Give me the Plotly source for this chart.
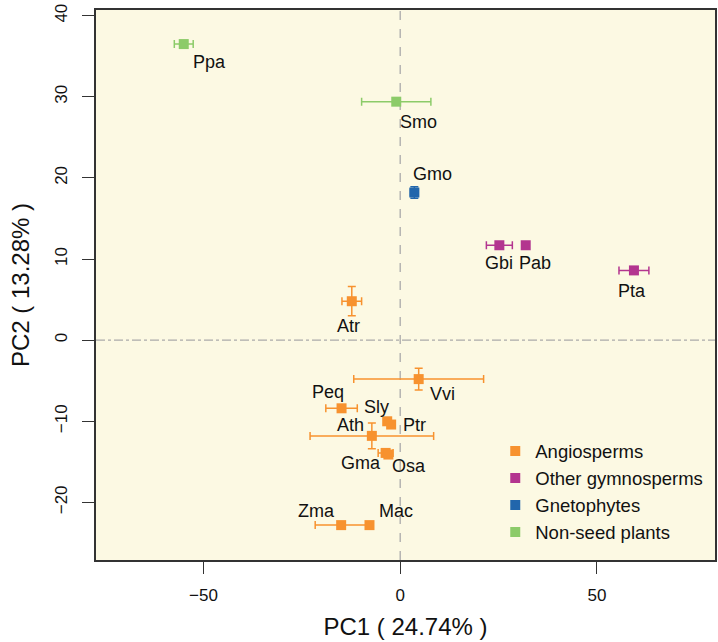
import plotly.graph_objects as go

# ---- data ----
names = ["Ppa", "Smo", "Gmo", "Gbi", "Pab", "Pta", "Atr", "Vvi", "Peq", "Sly",
         "Ptr", "Ath", "Gma", "Osa", "Zma", "Mac"]
groups = ["Non-seed plants", "Non-seed plants", "Gnetophytes", "Other gymnosperms",
          "Other gymnosperms", "Other gymnosperms", "Angiosperms", "Angiosperms",
          "Angiosperms", "Angiosperms", "Angiosperms", "Angiosperms", "Angiosperms",
          "Angiosperms", "Angiosperms", "Angiosperms"]
pc1 = [-55.0, -1.0, 3.6, 25.2, 31.9, 59.4, -12.3, 4.7, -14.9, -3.3,
       -2.3, -7.2, -3.7, -3.0, -15.0, -7.8]
pc2 = [36.5, 29.4, 18.2, 11.7, 11.7, 8.6, 4.8, -4.8, -8.4, -10.0,
       -10.4, -11.8, -13.9, -14.1, -22.8, -22.8]
pc1_err = [2.4, 8.8, 1.0, 3.3, 0.0, 3.8, 2.5, 16.5, 4.0, 0.0,
           0.0, 15.7, 1.9, 0.0, 6.6, 0.0]
pc2_err = [0.0, 0.0, 0.7, 0.0, 0.0, 0.0, 1.8, 1.35, 0.0, 0.0,
           0.0, 1.6, 0.0, 0.0, 0.0, 0.0]
legend_order = ["Angiosperms", "Other gymnosperms", "Gnetophytes", "Non-seed plants"]
x_tick_vals = [-50, 0, 50]
y_tick_vals = [-20, -10, 0, 10, 20, 30, 40]

# ---- styles ----
colors = {"Angiosperms": "#F7922F", "Other gymnosperms": "#B3358F",
          "Gnetophytes": "#2166AC", "Non-seed plants": "#8CCB69"}
# label pixel offsets (dx right, dy down)
label_offsets = [(26, 18), (22, 20), (18, -19), (0, 18), (9, 18), (-2, 21),
                 (-3, 25), (24, 15), (-14, -16), (-11, -14), (23, 0), (-21, -11),
                 (-25, 10), (21, 11), (-25, -14), (27, -14)]
FONT = "Liberation Sans, Arial, sans-serif"

fig = go.Figure()

for g in legend_order:
    idx = [i for i, gg in enumerate(groups) if gg == g]
    fig.add_trace(go.Scatter(
        x=[pc1[i] for i in idx], y=[pc2[i] for i in idx], mode="markers",
        marker=dict(symbol="square", size=10, color=colors[g]),
        error_x=dict(type="data", array=[pc1_err[i] for i in idx], color=colors[g],
                     thickness=1.5, width=4),
        error_y=dict(type="data", array=[pc2_err[i] for i in idx], color=colors[g],
                     thickness=1.5, width=4),
        showlegend=False, hoverinfo="skip"))

for g in legend_order:
    fig.add_trace(go.Scatter(
        x=[None], y=[None], mode="markers", name=g,
        marker=dict(symbol="square", size=10, color=colors[g])))

for i, n in enumerate(names):
    dx, dy = label_offsets[i]
    fig.add_annotation(x=pc1[i], y=pc2[i], text=n, showarrow=False,
                       xshift=dx, yshift=-dy, font=dict(size=18, color="#111111", family=FONT))

fig.add_shape(type="line", xref="x", yref="paper", x0=0, x1=0, y0=0, y1=1,
              line=dict(color="#AAAAAA", width=1.3, dash="dash"), layer="below")
fig.add_shape(type="line", xref="paper", yref="y", x0=0, x1=1, y0=0, y1=0,
              line=dict(color="#AAAAAA", width=1.3, dash="dashdot"), layer="below")

fig.update_layout(
    width=718, height=642,
    margin=dict(l=96, r=3, t=10, b=82, autoexpand=False),
    paper_bgcolor="white", plot_bgcolor="#FCF9E3",
    font=dict(family=FONT, size=17, color="#111111"),
    legend=dict(x=0.645, y=0.232, xanchor="left", yanchor="top",
                bgcolor="rgba(0,0,0,0)", font=dict(size=18.5)),
    xaxis=dict(range=[-77.3, 80.0], tickvals=x_tick_vals, ticks="outside", ticklen=12,
               tickcolor="#333333", showgrid=False, zeroline=False, showline=True,
               linecolor="#333333", linewidth=1.5, mirror=True, ticklabelstandoff=7,
               title=dict(text="PC1 ( 24.74% )", font=dict(size=24), standoff=14)),
    yaxis=dict(range=[-27.1, 40.7], tickvals=y_tick_vals, ticks="outside", ticklen=12,
               tickcolor="#333333", tickangle=-90, showgrid=False, zeroline=False,
               showline=True, linecolor="#333333", linewidth=1.5, mirror=True,
               ticklabelstandoff=8,
               title=dict(text="PC2 ( 13.28% )", font=dict(size=24), standoff=16)),
)

fig.write_html("out.html", config={"displayModeBar": False},
               post_script="document.body.style.margin='0px';")
